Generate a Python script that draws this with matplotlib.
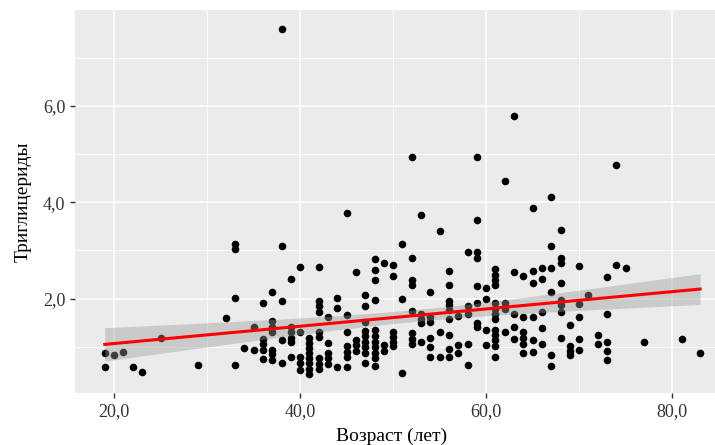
import numpy as np
import matplotlib.pyplot as plt

# age (years) and triglycerides, grouped by age column
age = ([19, 19, 20, 21, 22, 23, 25, 29, 32]
       + [33] * 4 + [34] + [35] * 2 + [36] * 5 + [37] * 7 + [38] * 5 + [39] * 6
       + [40] * 5 + [41] * 8 + [42] * 9 + [43] * 5 + [44] * 3 + [45] * 7 + [46] * 4
       + [47] * 9 + [48] * 11 + [49] * 3 + [50] * 6 + [51] * 3 + [52] * 8 + [53] * 5
       + [54] * 6 + [55] * 3 + [56] * 9 + [57] * 3 + [58] * 5 + [59] * 8 + [60] * 4
       + [61] * 13 + [62] * 4 + [63] * 5 + [64] * 6 + [65] * 6 + [66] * 5 + [67] * 6
       + [68] * 8 + [69] * 4 + [70] * 5 + [71] + [72] * 2 + [73] * 5 + [74] * 2
       + [75, 77, 81, 83])

trig = [0.87, 0.59, 0.82, 0.90, 0.57, 0.48, 1.19, 0.62, 1.59,
        3.13, 3.02, 2.02, 0.62,
        0.98,
        1.41, 0.93,
        1.91, 1.17, 1.06, 0.93, 0.74,
        2.14, 1.53, 1.41, 1.30, 0.93, 0.84, 0.72,
        7.60, 3.09, 1.95, 1.15, 0.66,
        2.40, 1.41, 1.30, 1.19, 1.10, 0.79,
        2.66, 1.31, 0.79, 0.66, 0.52,
        1.19, 1.07, 0.97, 0.86, 0.76, 0.66, 0.53, 0.43,
        2.66, 1.95, 1.84, 1.73, 1.31, 1.21, 0.76, 0.64, 0.53,
        1.62, 1.08, 0.88, 0.76, 0.64,
        2.02, 1.80, 0.59,
        3.77, 1.66, 1.31, 1.01, 0.90, 0.79, 0.59,
        2.56, 1.14, 1.04, 0.92,
        2.07, 1.84, 1.52, 1.33, 1.22, 1.10, 0.99, 0.88, 0.66,
        2.83, 2.59, 2.38, 1.97, 1.35, 1.22, 1.10, 0.99, 0.88, 0.76, 0.60,
        2.74, 1.04, 0.92,
        2.70, 2.47, 1.31, 1.21, 1.10, 1.01,
        3.13, 1.99, 0.46,
        4.93, 2.85, 2.38, 2.28, 1.75, 1.28, 1.17, 1.06,
        3.73, 1.68, 1.57, 1.49, 1.10,
        2.14, 1.62, 1.52, 1.19, 1.00, 0.78,
        3.40, 1.31, 0.78,
        2.58, 2.28, 1.95, 1.86, 1.76, 1.57, 1.24, 0.95, 0.79,
        1.64, 1.04, 0.88,
        2.96, 1.84, 1.69, 1.06, 0.62,
        4.94, 3.63, 2.96, 2.85, 2.27, 1.90, 1.49, 1.40,
        2.21, 2.00, 1.35, 1.04,
        2.61, 2.49, 2.38, 2.28, 1.90, 1.78, 1.69, 1.57, 1.35, 1.24, 1.14, 1.01, 0.78,
        4.45, 1.90, 1.78, 1.31,
        5.79, 2.56, 1.69, 1.41, 1.17,
        2.47, 1.62, 1.31, 1.19, 1.06, 0.86,
        3.89, 2.58, 2.32, 1.62, 1.14, 0.90,
        2.63, 2.40, 1.73, 1.38, 1.06,
        4.10, 3.09, 2.64, 2.14, 0.83, 0.60,
        3.42, 2.85, 2.74, 2.32, 1.97, 1.86, 1.73, 1.19,
        1.46, 1.01, 0.92, 0.83,
        2.68, 1.89, 1.62, 1.17, 0.93,
        2.07,
        1.24, 1.06,
        2.45, 1.67, 1.10, 0.92, 0.72,
        4.78, 2.70,
        2.64, 1.10, 1.17, 0.86]

xticks = [20, 40, 60, 80]
yticks = [2, 4, 6]
xticklabels = ["20,0", "40,0", "60,0", "80,0"]
yticklabels = ["2,0", "4,0", "6,0"]

x = np.array(age, dtype=float)
y = np.array(trig)

# linear fit with 95% confidence band (like geom_smooth(method="lm"))
n = len(x)
b, a = np.polyfit(x, y, 1)
resid = y - (a + b * x)
s = np.sqrt(np.sum(resid ** 2) / (n - 2))
xs = np.linspace(x.min(), x.max(), 80)
ys = a + b * xs
se = s * np.sqrt(1 / n + (xs - x.mean()) ** 2 / np.sum((x - x.mean()) ** 2))
t = 1.968

plt.rcParams['font.family'] = ['Liberation Serif', 'DejaVu Serif']

fig = plt.figure(figsize=(7.15, 4.45), dpi=100)
ax = fig.add_axes([75 / 715, 52 / 445, 640 / 715, 383 / 445])
ax.set_facecolor('#EBEBEB')

ax.set_xticks([30, 50, 70], minor=True)
ax.set_yticks([1, 3, 5, 7], minor=True)
ax.grid(which='major', color='white', linewidth=1.1)
ax.grid(which='minor', color='white', linewidth=0.55)
ax.set_axisbelow(True)

ax.scatter(x, y, s=30, color='black', linewidths=0, zorder=3)
ax.fill_between(xs, ys - t * se, ys + t * se, color='#999999', alpha=0.4,
                linewidth=0, zorder=4)
ax.plot(xs, ys, color='red', linewidth=2.2, zorder=5)

ax.set_xlim(15.8, 84.6)
ax.set_ylim(0.04, 7.99)
ax.set_xticks(xticks)
ax.set_xticklabels(xticklabels)
ax.set_yticks(yticks)
ax.set_yticklabels(yticklabels)
ax.tick_params(which='major', length=3.5, width=1, color='#333333',
               labelsize=13, labelcolor='#333333')
ax.tick_params(which='minor', length=0)
for sp in ax.spines.values():
    sp.set_visible(False)

ax.set_xlabel("Возраст (лет)", fontsize=14, labelpad=4)
ax.set_ylabel("Триглицериды", fontsize=14, labelpad=8)
ax.xaxis.set_label_coords(0.494, -0.09)

fig.savefig('out.png', dpi=100)
